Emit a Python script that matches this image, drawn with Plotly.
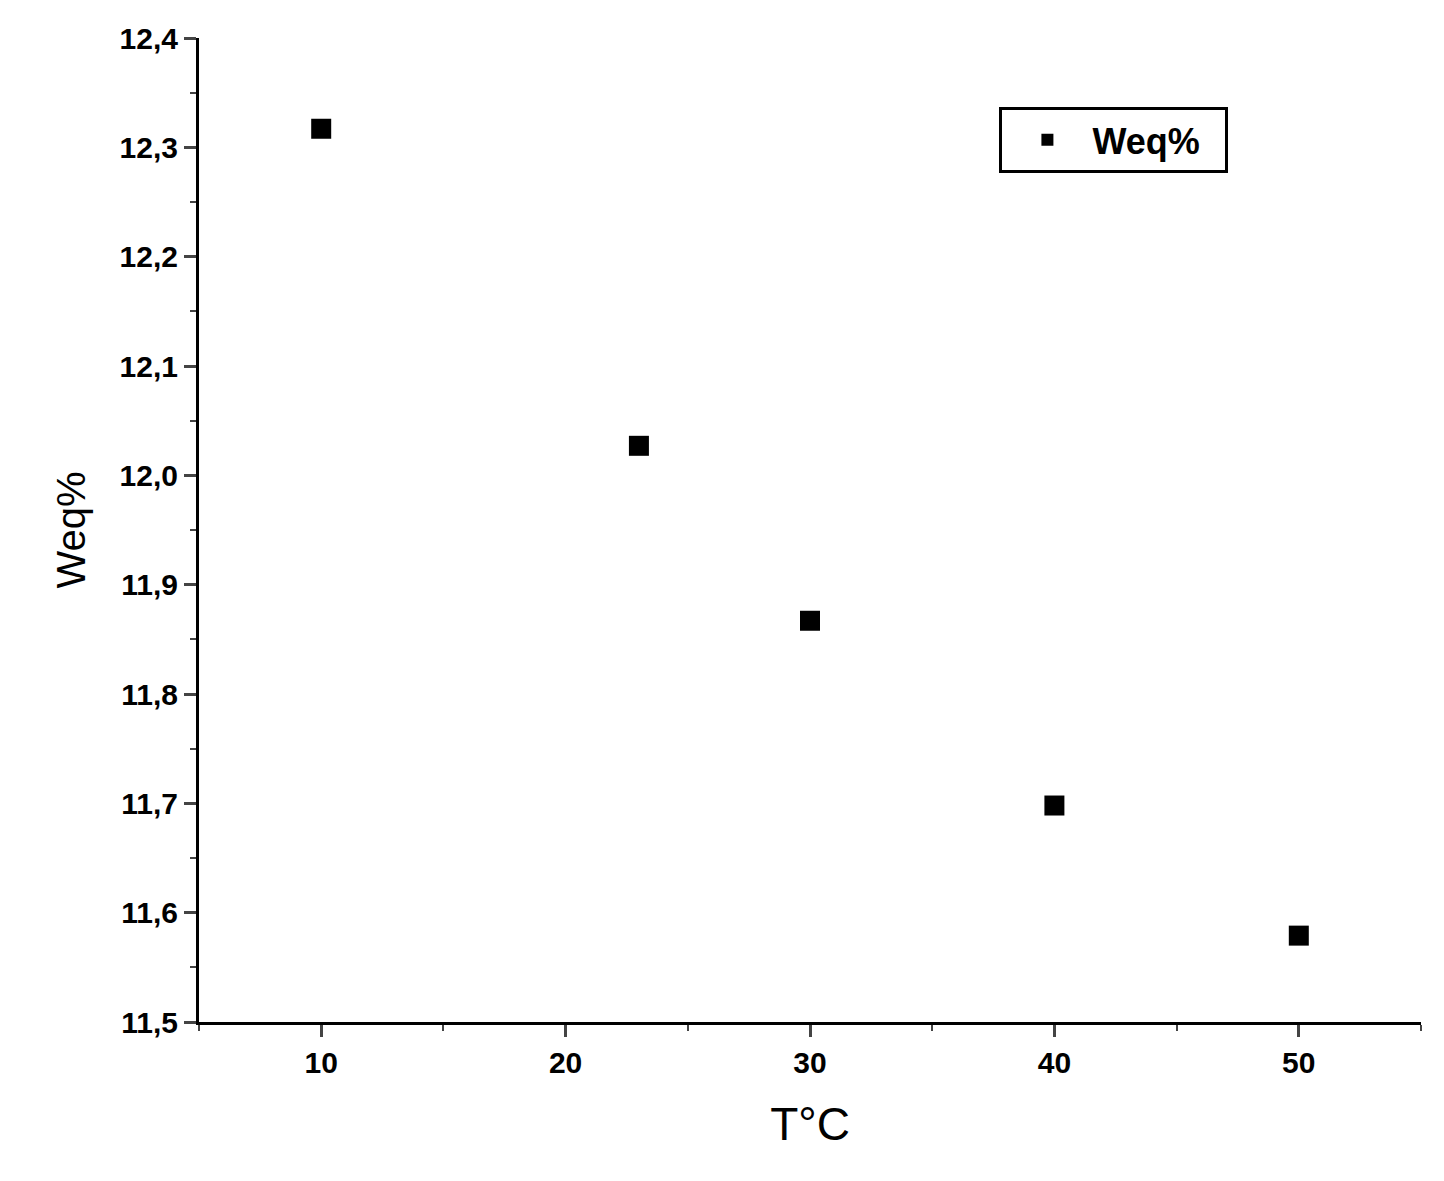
import plotly.graph_objects as go

temps = [10, 23, 30, 40, 50]
weq = [12.317, 12.027, 11.867, 11.698, 11.579]

fig = go.Figure(go.Scatter(x=temps, y=weq, mode="markers", name="<b>Weq%</b>  ",
    marker=dict(symbol="square", size=20, color="black")))

fig.update_layout(
    width=1444, height=1181, plot_bgcolor="white", paper_bgcolor="white",
    margin=dict(l=191, r=31, t=30, b=167), separators=",.",
    font=dict(family="Liberation Sans", size=30, color="black"), showlegend=True,
    legend=dict(x=0.655, y=0.93, xanchor="left", yanchor="top",
                bordercolor="black", borderwidth=3, bgcolor="white",
                font=dict(family="Liberation Sans", size=36, color="black"),
                itemsizing="constant", itemwidth=80),
)
tf = dict(family="Liberation Sans", size=30, color="black", weight="bold")
fig.update_xaxes(range=[5, 55], dtick=10, tick0=10, showline=True, linecolor="black",
    linewidth=3, ticks="outside", ticklen=12, tickwidth=3, showgrid=False, zeroline=False,
    tickfont=tf,
    minor=dict(dtick=5, tick0=5, ticks="outside", ticklen=6, tickwidth=2, showgrid=False),
    title=dict(text="T°C", font=dict(family="Liberation Sans", size=46, color="black"), standoff=30))
fig.update_yaxes(range=[11.5, 12.4], dtick=0.1, tickformat=".1f", showline=True, linecolor="black",
    linewidth=3, ticks="outside", ticklen=12, tickwidth=3, showgrid=False, zeroline=False,
    tickfont=tf,
    minor=dict(dtick=0.05, ticks="outside", ticklen=6, tickwidth=2, showgrid=False),
    title=dict(text="Weq%", font=dict(family="Liberation Sans", size=40, color="black"), standoff=22))
fig.write_html("out.html")
